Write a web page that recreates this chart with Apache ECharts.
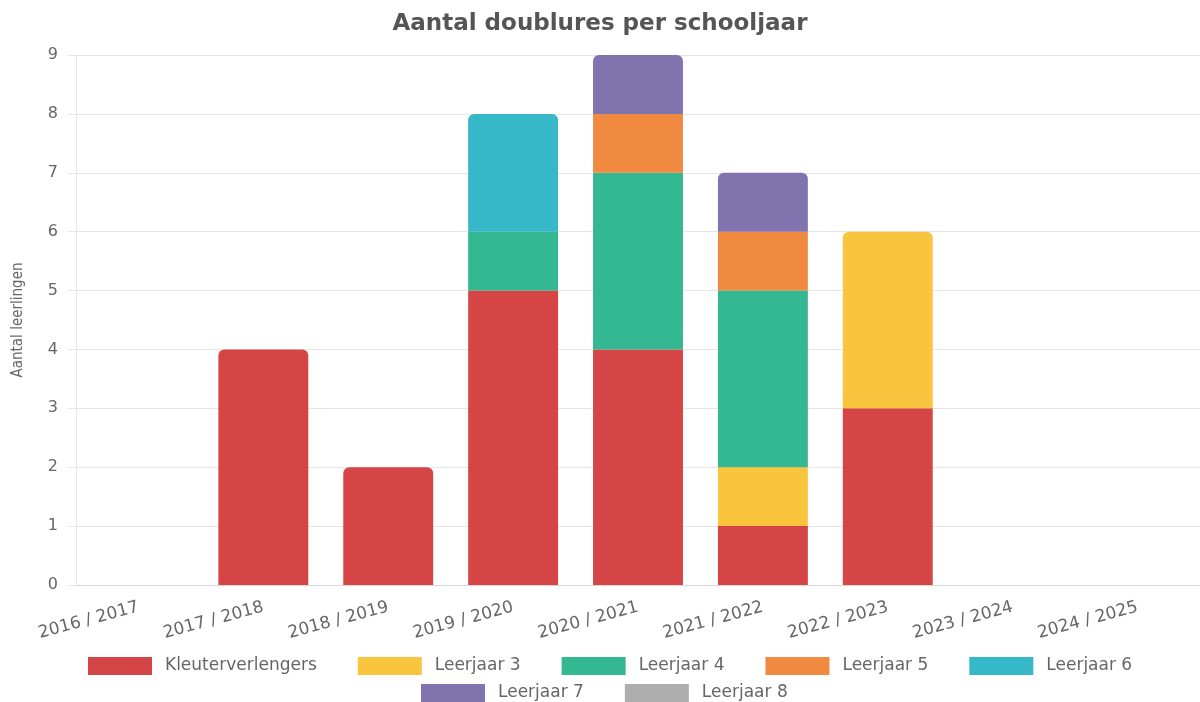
<!DOCTYPE html>
<html>
<head>
<meta charset="utf-8">
<script src="https://cdn.jsdelivr.net/npm/echarts@6/dist/echarts.min.js"></script>
<style>
  html, body { margin: 0; padding: 0; background: #fff; }
  #main { width: 1200px; height: 702px; }
</style>
</head>
<body>
<div id="main"></div>
<script>
const schooljaren = ['2016 / 2017', '2017 / 2018', '2018 / 2019', '2019 / 2020', '2020 / 2021',
  '2021 / 2022', '2022 / 2023', '2023 / 2024', '2024 / 2025']
const kleuterverlengers = [0, 4, 2, 5, 4, 1, 3, 0, 0]
const leerjaar3 = [0, 0, 0, 0, 0, 1, 3, 0, 0]
const leerjaar4 = [0, 0, 0, 1, 3, 3, 0, 0, 0]
const leerjaar5 = [0, 0, 0, 0, 1, 1, 0, 0, 0]
const leerjaar6 = [0, 0, 0, 2, 0, 0, 0, 0, 0]
const leerjaar7 = [0, 0, 0, 0, 1, 1, 0, 0, 0]
const leerjaar8 = [0, 0, 0, 0, 0, 0, 0, 0, 0]

const reeksen = [
  { name: 'Kleuterverlengers', data: kleuterverlengers, color: 'rgba(212,59,60,0.95)' },
  { name: 'Leerjaar 3', data: leerjaar3, color: 'rgba(249,194,52,0.95)' },
  { name: 'Leerjaar 4', data: leerjaar4, color: 'rgba(41,180,140,0.95)' },
  { name: 'Leerjaar 5', data: leerjaar5, color: 'rgba(240,132,55,0.95)' },
  { name: 'Leerjaar 6', data: leerjaar6, color: 'rgba(44,180,198,0.95)' },
  { name: 'Leerjaar 7', data: leerjaar7, color: 'rgba(122,108,170,0.95)' },
  { name: 'Leerjaar 8', data: leerjaar8, color: 'rgba(170,170,170,0.95)' }
]

// which series is the top of each stack (gets the rounded corners)
const topIndex = schooljaren.map((_, i) => {
  let top = -1
  reeksen.forEach((r, s) => { if (r.data[i] > 0) top = s })
  return top
})

const font = 'DejaVu Sans'
const legendStyle = {
  itemWidth: 64,
  itemHeight: 18,
  itemGap: 41,
  icon: 'rect',
  textStyle: { fontFamily: font, fontSize: 17, color: '#666', padding: [0, 0, 0, 8] }
}
const myChart = echarts.init(document.getElementById('main'))
const option = {
  animation: false,
  title: {
    text: 'Aantal doublures per schooljaar',
    left: 'center',
    top: 8,
    textStyle: { fontFamily: font, fontSize: 23, fontWeight: 'bold', color: '#555' }
  },
  legend: [
    Object.assign({ left: 83, top: 652, data: reeksen.slice(0, 5).map(r => r.name) }, legendStyle),
    Object.assign({ left: 416, top: 679, data: reeksen.slice(5).map(r => r.name) }, legendStyle)
  ],
  grid: { left: 76, width: 1134, top: 55, bottom: 117 },
  xAxis: {
    type: 'category',
    data: schooljaren,
    axisLine: { lineStyle: { color: '#d8d8d8' } },
    axisTick: { show: false },
    axisLabel: { rotate: 15, fontFamily: font, fontSize: 17, color: '#666', margin: 22, interval: 0 }
  },
  yAxis: {
    type: 'value',
    min: 0,
    max: 9,
    interval: 1,
    name: 'Aantal leerlingen',
    nameLocation: 'middle',
    nameGap: 50,
    nameTextStyle: { fontFamily: '"DejaVu Sans Condensed", "Liberation Sans"', fontSize: 15, color: '#666' },
    axisLine: { show: true, lineStyle: { color: '#e6e6e6' } },
    axisTick: { show: true, length: 8, lineStyle: { color: '#e6e6e6' } },
    axisLabel: { fontFamily: font, fontSize: 16, color: '#666', margin: 18 },
    splitLine: { lineStyle: { color: '#e6e6e6' } }
  },
  series: reeksen.map((r, s) => ({
    name: r.name,
    type: 'bar',
    stack: 'totaal',
    barWidth: '72%',
    itemStyle: { color: r.color },
    data: r.data.map((v, i) => ({
      value: v,
      itemStyle: topIndex[i] === s ? { borderRadius: [6, 6, 0, 0] } : {}
    }))
  }))
}
myChart.setOption(option)
</script>
</body>
</html>
